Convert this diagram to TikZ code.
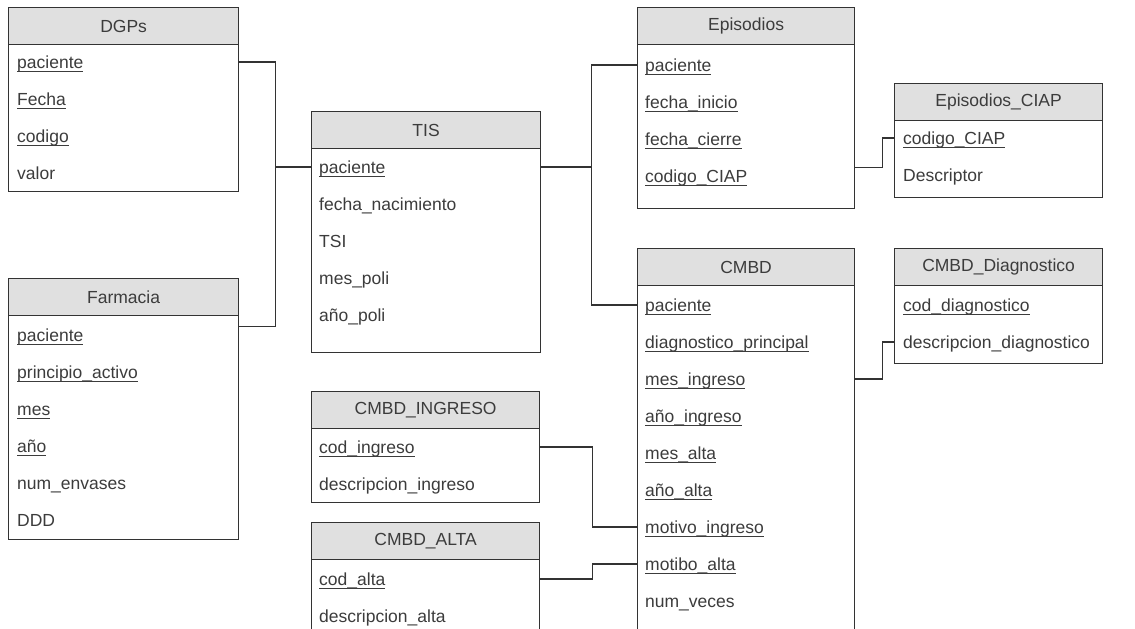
\documentclass[tikz,border=0pt]{standalone}
\usepackage{fontspec}
\setmainfont{Liberation Sans}
\definecolor{linegray}{RGB}{51,51,51}
\definecolor{headgray}{RGB}{224,224,224}
\definecolor{textgray}{RGB}{60,60,60}
\newcommand{\ukey}[1]{\setbox0\hbox{#1}\rlap{\rule[-3.5pt]{\wd0}{1pt}}\box0}
\begin{document}
\begin{tikzpicture}[x=1pt,y=-1pt,
    font=\fontsize{17.5}{21}\selectfont,
    tbl/.style={draw=linegray, line width=1.2pt, fill=white, anchor=north west, inner sep=0pt},
    hdr/.style={draw=linegray, fill=headgray, line width=1.2pt, anchor=north west, inner sep=0pt, minimum height=37, text=textgray},
    fld/.style={anchor=west, inner sep=0pt, text height=14pt, text depth=2pt, text=textgray},
    link/.style={draw=linegray, line width=1.2pt}]
    \clip (0,0) rectangle (1135,629);
    % DGPs
    \node[tbl, minimum width=230, minimum height=184] (dgps) at (8,7) {};
    \node[hdr, minimum width=230] (dgpsh) at (8,7) {DGPs};
    \foreach \fname [count=\i] in {\ukey{paciente},\ukey{Fecha},\ukey{codigo},valor}
        \node[fld] (dgps\i) at (17,{62+37*(\i-1)}) {\fname};
    % Farmacia
    \node[tbl, minimum width=230, minimum height=261] (farm) at (8,278) {};
    \node[hdr, minimum width=230] (farmh) at (8,278) {Farmacia};
    \foreach \fname [count=\i] in {\ukey{paciente},\ukey{principio\_activo},\ukey{mes},\ukey{año},num\_envases,DDD}
        \node[fld] (farm\i) at (17,{335+37*(\i-1)}) {\fname};
    % TIS
    \node[tbl, minimum width=229, minimum height=241] (tis) at (311,111) {};
    \node[hdr, minimum width=229] (tish) at (311,111) {TIS};
    \foreach \fname [count=\i] in {\ukey{paciente},fecha\_nacimiento,TSI,mes\_poli,año\_poli}
        \node[fld] (tis\i) at (319,{167+37*(\i-1)}) {\fname};
    % Episodios
    \node[tbl, minimum width=217, minimum height=201] (epi) at (637,7) {};
    \node[hdr, minimum width=217] (epih) at (637,7) {Episodios};
    \foreach \fname [count=\i] in {\ukey{paciente},\ukey{fecha\_inicio},\ukey{fecha\_cierre},\ukey{codigo\_CIAP}}
        \node[fld] (epi\i) at (645,{65+37*(\i-1)}) {\fname};
    % Episodios_CIAP
    \node[tbl, minimum width=208, minimum height=114] (ciap) at (894,83) {};
    \node[hdr, minimum width=208] (ciaph) at (894,83) {Episodios\_CIAP};
    \foreach \fname [count=\i] in {\ukey{codigo\_CIAP},Descriptor}
        \node[fld] (ciap\i) at (903,{138+37*(\i-1)}) {\fname};
    % CMBD
    \node[tbl, minimum width=217, minimum height=420] (cmbd) at (637,248) {};
    \node[hdr, minimum width=217] (cmbdh) at (637,248) {CMBD};
    \foreach \fname [count=\i] in {\ukey{paciente},\ukey{diagnostico\_principal},\ukey{mes\_ingreso},\ukey{año\_ingreso},\ukey{mes\_alta},\ukey{año\_alta},\ukey{motivo\_ingreso},\ukey{motibo\_alta},num\_veces}
        \node[fld] (cmbd\i) at (645,{305+37*(\i-1)}) {\fname};
    % CMBD_Diagnostico
    \node[tbl, minimum width=208, minimum height=115] (diag) at (894,248) {};
    \node[hdr, minimum width=208] (diagh) at (894,248) {CMBD\_Diagnostico};
    \foreach \fname [count=\i] in {\ukey{cod\_diagnostico},descripcion\_diagnostico}
        \node[fld] (diag\i) at (903,{305+37*(\i-1)}) {\fname};
    % CMBD_INGRESO
    \node[tbl, minimum width=228, minimum height=111] (ing) at (311,391) {};
    \node[hdr, minimum width=228] (ingh) at (311,391) {CMBD\_INGRESO};
    \foreach \fname [count=\i] in {\ukey{cod\_ingreso},descripcion\_ingreso}
        \node[fld] (ing\i) at (319,{447+37*(\i-1)}) {\fname};
    % CMBD_ALTA
    \node[tbl, minimum width=228, minimum height=150] (alta) at (311,522) {};
    \node[hdr, minimum width=228] (altah) at (311,522) {CMBD\_ALTA};
    \foreach \fname [count=\i] in {\ukey{cod\_alta},descripcion\_alta}
        \node[fld] (alta\i) at (319,{579+37*(\i-1)}) {\fname};
    % links
    \draw[link] (dgps.east |- dgps1.west) -- ++(36,0) |- (tis.west |- tis1.west);
    \draw[link] (farm.east |- farm1.north) -- ++(36,0) |- (tis.west |- tis1.west);
    \draw[link] (tis.east |- tis1.west) -- ++(50,0) |- (epi.west |- epi1.west);
    \draw[link] (tis.east |- tis1.west) -- ++(50,0) |- (cmbd.west |- cmbd1.west);
    \draw[link] (epi.east |- epi4.north) -- ++(27,0) |- (ciap.west |- ciap1.west);
    \draw[link] (cmbd.east |- cmbd3.west) -- ++(27,0) |- (diag.west |- diag2.west);
    \draw[link] (ing.east |- ing1.west) -- ++(52,0) |- (cmbd.west |- cmbd7.west);
    \draw[link] (alta.east |- alta1.west) -- ++(52,0) |- (cmbd.west |- cmbd8.west);
\end{tikzpicture}
\end{document}
